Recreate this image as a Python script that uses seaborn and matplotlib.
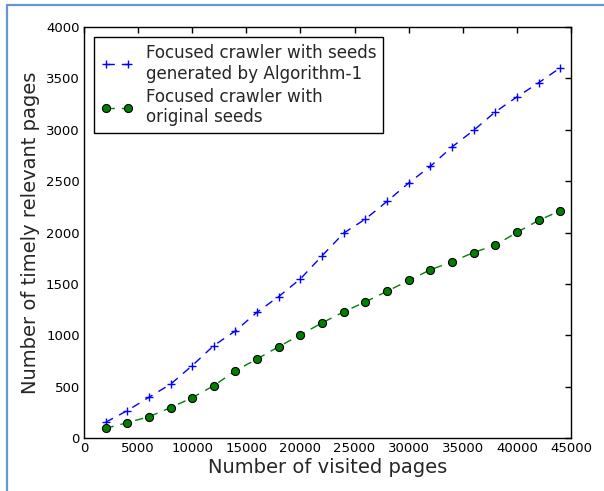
import matplotlib
matplotlib.use("Agg")
import matplotlib.pyplot as plt
from matplotlib.lines import Line2D
import seaborn as sns
import pandas as pd

visited_pages = [2000, 4000, 6000, 8000, 10000, 12000, 14000, 16000, 18000, 20000, 22000,
                 24000, 26000, 28000, 30000, 32000, 34000, 36000, 38000, 40000, 42000, 44000]
algorithm_seeds = [156, 269, 399, 526, 707, 902, 1045, 1227, 1379, 1551, 1775,
                   1996, 2132, 2304, 2483, 2645, 2833, 2995, 3174, 3320, 3457, 3603]
original_seeds = [97, 152, 210, 298, 395, 512, 658, 772, 892, 1006, 1123,
                  1230, 1327, 1430, 1535, 1639, 1717, 1807, 1879, 2002, 2119, 2213]

label_algo = "Focused crawler with seeds\ngenerated by Algorithm-1"
label_orig = "Focused crawler with\noriginal seeds"

xticks = [0, 5000, 10000, 15000, 20000, 25000, 30000, 35000, 40000, 45000]
yticks = [0, 500, 1000, 1500, 2000, 2500, 3000, 3500, 4000]

sns.set_style("white")
plt.rcParams["font.family"] = ["DejaVu Sans"]

df_algo = pd.DataFrame({"pages": visited_pages, "relevant": algorithm_seeds})
df_orig = pd.DataFrame({"pages": visited_pages, "relevant": original_seeds})

fig = plt.figure(figsize=(6.04, 4.91), dpi=100)
ax = fig.add_axes([0.139, 0.1073, 0.8064, 0.8377])

sns.lineplot(data=df_algo, x="pages", y="relevant", ax=ax, color="blue",
             linestyle="--", linewidth=1, marker="+", markersize=5.5,
             markeredgewidth=1, markeredgecolor="blue", label=label_algo)
sns.lineplot(data=df_orig, x="pages", y="relevant", ax=ax, color="green",
             linestyle="--", linewidth=1, marker="o", markersize=5.8,
             markerfacecolor="green", markeredgecolor="black",
             markeredgewidth=0.8, label=label_orig)
for line in ax.get_lines():
    line.set_dashes([6, 5])

ax.set_xlim(0, 45000)
ax.set_ylim(0, 4000)
ax.set_xticks(xticks)
ax.set_yticks(yticks)
ax.tick_params(direction="in", length=4, width=1, top=True, right=True,
               labelsize=9.5, colors="black", pad=3)
for s in ax.spines.values():
    s.set_color("black")
    s.set_linewidth(1)

ax.set_xlabel("Number of visited pages", fontsize=14, labelpad=2)
ax.set_ylabel("Number of timely relevant pages", fontsize=14, labelpad=4)

leg = ax.legend(loc="upper left", fontsize=12.1, frameon=True, fancybox=False,
                edgecolor="black", framealpha=1, borderaxespad=0.6,
                handlelength=1.9, handletextpad=0.8, labelspacing=0.3,
                numpoints=2)
leg.get_frame().set_linewidth(1)

# page frame lines along the top and left edges
border = "#6b94d2"
fig.add_artist(Line2D([6.5 / 604, 1.0], [1 - 4.5 / 491, 1 - 4.5 / 491],
                      transform=fig.transFigure, color=border, linewidth=1.6))
fig.add_artist(Line2D([6.5 / 604, 6.5 / 604], [0.0, 1 - 4.5 / 491],
                      transform=fig.transFigure, color=border, linewidth=1.6))

fig.savefig("out.png", dpi=100, facecolor="white")
